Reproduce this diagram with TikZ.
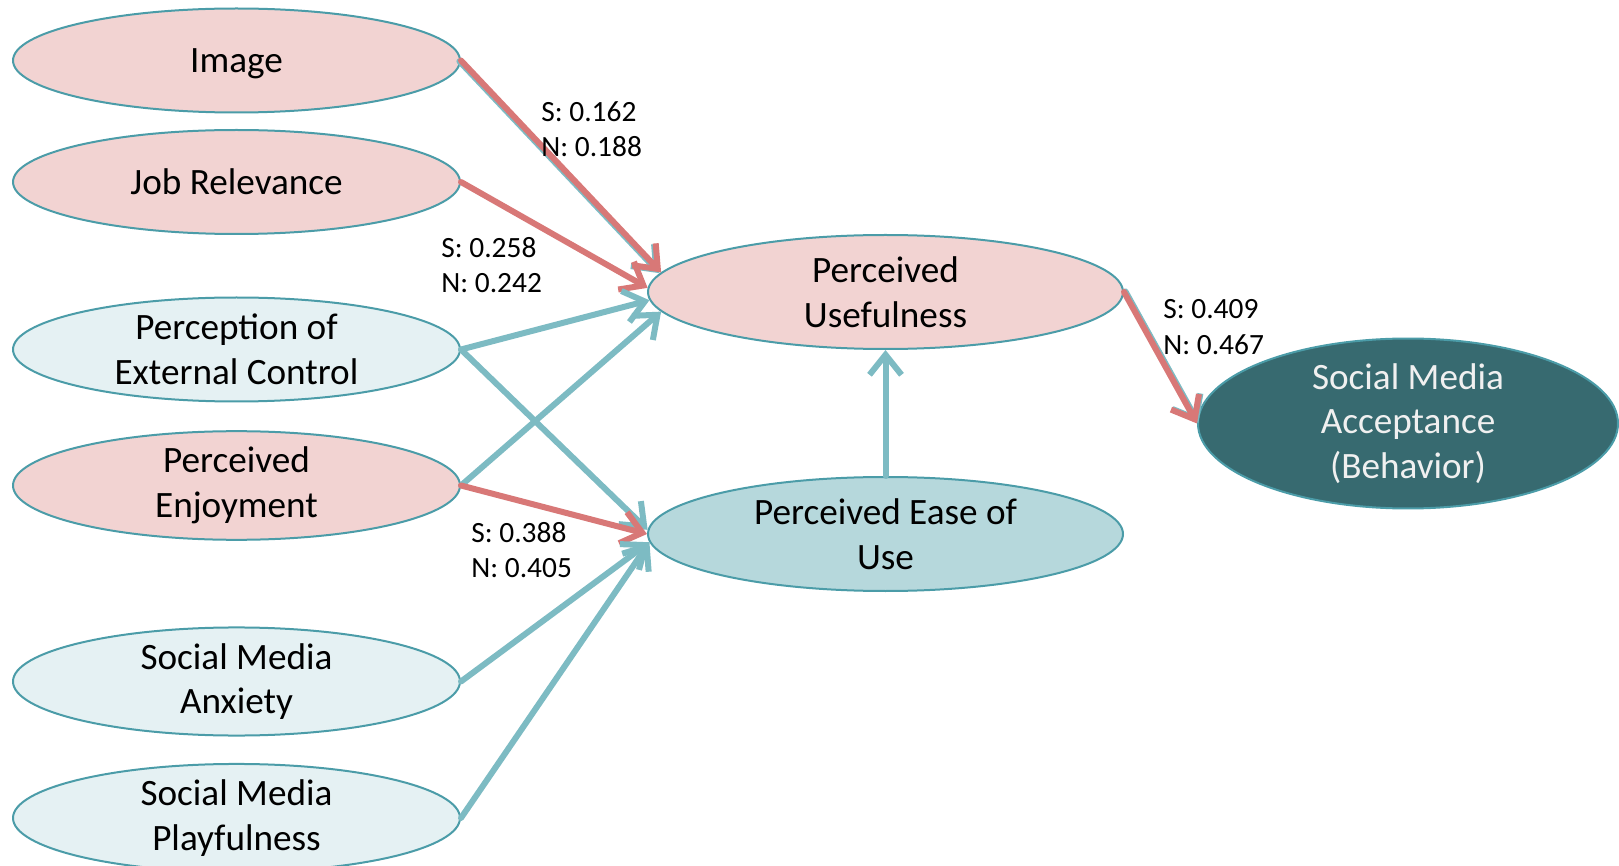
\documentclass[tikz,border=0pt]{standalone}
\usepackage{fontspec}
\setmainfont{Carlito}
\usetikzlibrary{shapes.geometric,arrows.meta}
\definecolor{pinkfill}{HTML}{F2D3D2}
\definecolor{paleblue}{HTML}{E5F1F3}
\definecolor{midblue}{HTML}{B6D8DC}
\definecolor{darkteal}{HTML}{376A70}
\definecolor{edgeteal}{HTML}{4B9CA8}
\definecolor{arrowred}{HTML}{D87877}
\definecolor{arrowteal}{HTML}{7DBBC3}
\begin{document}
\begin{tikzpicture}[x=0.5pt, y=-0.5pt, line join=round, line cap=round,
  construct/.style={ellipse, draw=edgeteal, line width=1pt, inner sep=0pt, align=center,
    font=\fontsize{18.6}{22.3}\selectfont},
  leftbox/.style={construct, minimum width=223.5pt, minimum height=52pt},
  midbox/.style={construct, minimum width=237.5pt, minimum height=57pt},
  weight/.style={align=left, anchor=west, inner sep=0pt, font=\fontsize{14.7}{17.6}\selectfont},
  redarrow/.style={draw=arrowred, line width=3pt, -{Straight Barb[length=10pt,width=16pt]}},
  tealarrow/.style={draw=arrowteal, line width=3pt, -{Straight Barb[length=10pt,width=16pt]}}]
\useasboundingbox (0,0) rectangle (1619,866);

\node [leftbox, fill=pinkfill, text depth=0pt] (img) at (236.5, 60.5) {Image};
\node [leftbox, fill=pinkfill] (job) at (236.5,182) {Job Relevance};
\node [leftbox, fill=paleblue] (pec) at (236.5,349.5) {Perception of\\External Control};
\node [leftbox, fill=pinkfill] (enj) at (236.5,485.5) {Perceived\\Enjoyment};
\node [leftbox, fill=paleblue] (anx) at (236.5,681.5) {Social Media\\Anxiety};
\node [leftbox, fill=paleblue] (play) at (236.5,818) {Social Media\\Playfulness};

\node [midbox, fill=pinkfill] (pu) at (885.5,292) {Perceived\\Usefulness};
\node [midbox, fill=midblue] (peou) at (885.5,534) {Perceived Ease of\\Use};
\node [construct, fill=darkteal, text=white!94!black, minimum width=210pt, minimum height=82.5pt] (acc) at (1408,423.5) {Social Media\\Acceptance\\(Behavior)};

\draw[tealarrow, transform canvas={xshift=-0.8pt, yshift=-0.4pt}] (img.east) -- (pu.175);
\draw[redarrow] (img.east) -- (pu.175);
\draw[redarrow] (job.east) -- (pu.179);
\draw[tealarrow] (pec.east) -- (pu.182);
\draw[tealarrow] (enj.east) -- (pu.185);

\draw[tealarrow] (pec.east) -- (peou.179);
\draw[redarrow] (enj.east) -- (peou.180);
\draw[tealarrow] (anx.east) -- (peou.182);
\draw[tealarrow] (play.east) -- (peou.182);

\draw[tealarrow] (peou.north) -- (pu.south);
\draw[tealarrow, transform canvas={xshift=0.7pt, yshift=0.3pt}] (pu.east) -- (acc.west);
\draw[redarrow] (pu.east) -- (acc.west);

\node [weight] (wimg) at (541,129) {S: 0.162\\N: 0.188};
\node [weight] (wjob) at (441,265) {S: 0.258\\N: 0.242};
\node [weight] (wenj) at (471,550) {S: 0.388\\N: 0.405};
\node [weight] (wacc) at (1163,327) {S: 0.409\\N: 0.467};

\end{tikzpicture}
\end{document}
